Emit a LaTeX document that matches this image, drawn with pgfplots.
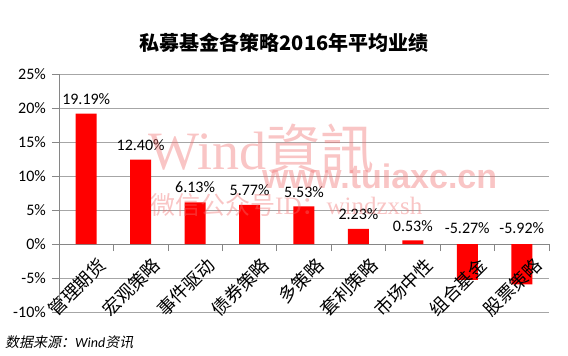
\documentclass[border=0pt]{standalone}
\usepackage{pgfplots}
\pgfplotsset{compat=1.18}
\usepackage{fontspec}
\setmainfont{Carlito}
\newfontfamily\cjk{Noto Sans CJK SC}
\newfontfamily\cjkit{Noto Sans CJK SC}[FakeSlant=0.2]
\newfontfamily\cjktc{Noto Sans CJK TC}
\newfontfamily\wmserif{Liberation Serif}
\newfontfamily\wmsans{Liberation Sans}
\definecolor{gridgray}{RGB}{166,166,166}
\definecolor{axisgray}{RGB}{134,134,134}
\definecolor{wm}{RGB}{240,110,110}
\begin{document}
\begin{tikzpicture}
\begin{axis}[
  at={(59bp,44bp)}, anchor=south west,
  scale only axis, width=490bp, height=238bp,
  xmin=-0.5, xmax=8.5, ymin=-10, ymax=25,
  axis y line*=left, axis x line*=middle,
  axis line style={draw=axisgray, line width=0.75bp, -},
  ytick={-10,-5,0,5,10,15,20,25},
  yticklabels={-10\%,-5\%,0\%,5\%,10\%,15\%,20\%,25\%},
  yticklabel style={font=\fontsize{16bp}{19bp}\selectfont, anchor=east, inner sep=0pt, xshift=-6bp},
  ymajorgrids, grid style={draw=gridgray, line width=0.75bp},
  ytick style={draw=axisgray, line width=0.75bp},
  tick align=outside, major tick length=7bp,
  xtick={-0.5,0.5,1.5,2.5,3.5,4.5,5.5,6.5,7.5,8.5},
  xticklabels={},
  xtick style={draw=axisgray, line width=0.75bp},
  clip=false,
]
\addplot[ybar, bar width=21bp, bar shift=0pt, fill=red, draw=none,
  point meta=explicit symbolic, nodes near coords,
  nodes near coords style={font=\fontsize{16bp}{19bp}\selectfont, anchor=south, inner sep=0pt, yshift=9bp, text=black}]
  coordinates {(0,19.19)[19.19\%] (1,12.40)[12.40\%] (2,6.13)[6.13\%] (3,5.77)[5.77\%] (4,5.53)[5.53\%] (5,2.23)[2.23\%] (6,0.53)[0.53\%]};
\addplot[ybar, bar width=21bp, bar shift=0pt, fill=red, draw=none]
  coordinates {(7,-5.27) (8,-5.92)};
\addplot[draw=none, mark=none, point meta=explicit symbolic, nodes near coords,
  nodes near coords style={font=\fontsize{16bp}{19bp}\selectfont, anchor=south, inner sep=0pt, yshift=10bp, text=black}]
  coordinates {(7,0)[-5.27\%] (8,0)[-5.92\%]};
% category names, drawn over the bars as in the reference
\addplot[draw=none, mark=none, point meta=explicit symbolic, nodes near coords,
  nodes near coords style={font=\cjk\fontsize{18bp}{20bp}\selectfont, rotate=45, anchor=east, inner sep=0pt, yshift=-24bp, xshift=-1bp, text=black}]
  coordinates {(0,0)[管理期货] (1,0)[宏观策略] (2,0)[事件驱动] (3,0)[债券策略] (4,0)[多策略] (5,0)[套利策略] (6,0)[市场中性] (7,0)[组合基金] (8,0)[股票策略]};
\end{axis}
\useasboundingbox (0,0) rectangle (568bp,356bp);
\node[font=\cjk\bfseries\fontsize{20bp}{24bp}\selectfont] at (284bp,313bp) {私募基金各策略2016年平均业绩};
\node[anchor=base west, inner sep=0pt, font=\fontsize{14bp}{16bp}\selectfont] at (5bp,9bp) {\cjkit 数据来源：\normalfont\itshape Wind\cjkit 资讯};
\begin{scope}[opacity=0.4, text=wm]
\node[anchor=base west, inner sep=0pt] at (148bp,186bp) {\fontsize{54bp}{60bp}\selectfont\wmserif Wind\cjktc 資訊};
\node[anchor=base west, inner sep=0pt] at (262bp,167bp) {\fontsize{34bp}{40bp}\selectfont\wmsans\bfseries www.tuiaxc.cn};
\node[anchor=base west, inner sep=0pt] at (150bp,141bp) {\fontsize{25bp}{30bp}\selectfont\cjk 微信公众号\wmserif ID\cjk ：\wmserif windzxsh};
\end{scope}
\end{tikzpicture}
\end{document}
